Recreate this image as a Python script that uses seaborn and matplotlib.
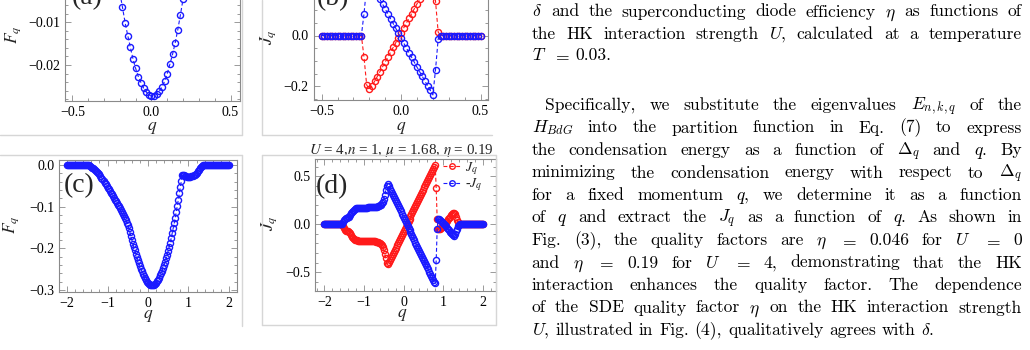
import numpy as np
import matplotlib
matplotlib.use("Agg")
import matplotlib.pyplot as plt
import seaborn as sns
from matplotlib.lines import Line2D
from matplotlib.ticker import FixedLocator, MultipleLocator, FuncFormatter
from matplotlib.transforms import IdentityTransform

# ---------------- data ----------------
q_ab = np.linspace(-0.5, 0.5, 61)          # q grid of panels (a),(b), step 1/60
F_a = [0.0] * 16 + [
    -0.0001, -0.0005, -0.0031, -0.0065, -0.0101, -0.0131, -0.0159, -0.0186, -0.0208, -0.0227,
    -0.0241, -0.0254, -0.0263, -0.0270, -0.0273, -0.0273, -0.0268, -0.0261, -0.0251, -0.0238,
    -0.0220, -0.0198, -0.0175, -0.0148, -0.0117, -0.0082, -0.0045, -0.0015, -0.0002] + [0.0] * 16
J_b = [0.0] * 16 + [
    -0.086, -0.194, -0.211, -0.197, -0.180, -0.161, -0.142, -0.123, -0.104, -0.085,
    -0.066, -0.047, -0.028, -0.008, 0.011, 0.030, 0.049, 0.068, 0.086, 0.105,
    0.124, 0.142, 0.160, 0.179, 0.197, 0.215, 0.233, 0.134, 0.013] + [0.0] * 16

q_cd = np.linspace(-2.0, 2.0, 161)         # q grid of panels (c),(d), step 0.025
F_c = [0.0] * 22 + [
    -0.001, -0.002, -0.004, -0.006, -0.008, -0.010, -0.012, -0.014, -0.017, -0.019,
    -0.022, -0.026, -0.030, -0.034, -0.038, -0.042, -0.046, -0.050, -0.054, -0.058,
    -0.062, -0.066, -0.070, -0.074, -0.078, -0.083, -0.087, -0.091, -0.095, -0.099,
    -0.104, -0.108, -0.113, -0.117, -0.122, -0.127, -0.132, -0.138, -0.144, -0.151,
    -0.160, -0.170, -0.180, -0.189, -0.197, -0.205, -0.213, -0.220, -0.228, -0.235,
    -0.242, -0.249, -0.255, -0.261, -0.266, -0.271, -0.276, -0.280, -0.283, -0.286,
    -0.288, -0.289, -0.289, -0.288, -0.287, -0.285, -0.282, -0.279, -0.275, -0.270,
    -0.265, -0.260, -0.254, -0.247, -0.240, -0.232, -0.224, -0.215, -0.206, -0.196,
    -0.186, -0.175, -0.163, -0.151, -0.139, -0.126, -0.112, -0.098, -0.083, -0.068,
    -0.053, -0.038, -0.025, -0.024, -0.025, -0.026, -0.027, -0.028, -0.028, -0.028,
    -0.028, -0.027, -0.026, -0.025, -0.023, -0.021, -0.018, -0.015, -0.012, -0.008,
    -0.005, -0.002, -0.001] + [0.0] * 26
J_d = [0.0] * 18 + [
    -0.005, -0.020, -0.040, -0.058, -0.066, -0.070, -0.073, -0.080, -0.095, -0.113,
    -0.130, -0.143, -0.153, -0.160, -0.165, -0.168, -0.170, -0.171, -0.172, -0.172,
    -0.173, -0.173, -0.173, -0.174, -0.174, -0.174, -0.175, -0.175, -0.175, -0.176,
    -0.176, -0.177, -0.178, -0.179, -0.181, -0.183, -0.186, -0.190, -0.196, -0.205,
    -0.218, -0.237, -0.265, -0.305, -0.355, -0.400, -0.418, -0.395, -0.371, -0.350,
    -0.328, -0.306, -0.285, -0.263, -0.242, -0.220, -0.198, -0.177, -0.155, -0.134,
    -0.112, -0.091, -0.069, -0.047, -0.026, -0.004, 0.017, 0.039, 0.060, 0.082,
    0.104, 0.125, 0.147, 0.168, 0.190, 0.211, 0.233, 0.255, 0.276, 0.298,
    0.319, 0.341, 0.362, 0.384, 0.406, 0.427, 0.449, 0.470, 0.492, 0.513,
    0.535, 0.557, 0.578, 0.600, 0.615, 0.375, 0.050, -0.050, -0.050, -0.045,
    -0.035, -0.025, -0.015, -0.005, 0.008, 0.022, 0.036, 0.050, 0.064, 0.078,
    0.092, 0.105, 0.116, 0.120, 0.105, 0.075, 0.045, 0.020, 0.006, 0.001] + [0.0] * 23

title_d = r"$U$ = 4,$n$ = 1, $\mu$ = 1.68, $\eta$ = 0.19"
legend_labels = [r"$J_q$", r"-$J_q$"]
panel_labels = ["(a)", "(b)", "(c)", "(d)"]

body_lines = [
    r"$\delta$ and the superconducting diode efficiency $\eta$ as functions of",
    r"the HK interaction strength $U$, calculated at a temperature",
    r"$T$ $=$ 0.03.",
    r"Specifically, we substitute the eigenvalues $E_{n,k,q}$ of the",
    r"$H_{BdG}$ into the partition function in Eq. (7) to express",
    r"the condensation energy as a function of $\Delta_q$ and $q$. By",
    r"minimizing the condensation energy with respect to $\Delta_q$",
    r"for a fixed momentum $q$, we determine it as a function",
    r"of $q$ and extract the $J_q$ as a function of $q$. As shown in",
    r"Fig.  (3), the quality factors are $\eta$ $=$ 0.046 for $U$ $=$ 0",
    r"and $\eta$ $=$ 0.19 for $U$ $=$ 4, demonstrating that the HK",
    r"interaction enhances the quality factor. The dependence",
    r"of the SDE quality factor $\eta$ on the HK interaction strength",
    r"$U$, illustrated in Fig. (4), qualitatively agrees with $\delta$.",
]
body_justify = [True, True, False, True, True, True, True, True, True, True, True, True, True, False]
body_indent = [False, False, False, True] + [False] * 10
body_base = [16.5, 39.0, 60.5, 110.0, 132.5, 155.0, 177.5, 200.0, 222.5, 245.0, 267.5, 290.0, 312.5, 335.0]

# ---------------- style ----------------
sns.set_theme(style="white")
plt.rcParams["font.family"] = ["Liberation Serif", "DejaVu Serif"]
plt.rcParams["mathtext.fontset"] = "stix"
plt.rcParams["axes.unicode_minus"] = True

W, H = 1030, 350
fig = plt.figure(figsize=(W / 100, H / 100), dpi=100)
fig.patch.set_facecolor("white")

BLUE = "#1a1aff"
RED = "#ff1a1a"
FRAME = "#8a8a8a"


def add_ax(x0, y0, x1, y1):
    return fig.add_axes([x0 / W, 1 - y1 / H, (x1 - x0) / W, (y1 - y0) / H])


def to_ax(box, px, py):
    x0, y0, x1, y1 = box
    return (px - x0) / (x1 - x0), (y1 - py) / (y1 - y0)


def fmt(dec):
    def f(v, pos):
        s = f"{v:.{dec}f}"
        if float(s) == 0:
            s = f"{0:.{dec}f}"
        return s.replace("-", "\u2212")
    return FuncFormatter(f)


def style_ax(ax, xmaj, xmin, ymaj, ymin, xdec, ydec):
    ax.set_facecolor("white")
    for sp in ax.spines.values():
        sp.set_color(FRAME)
        sp.set_linewidth(0.8)
        sp.set_visible(True)
    ax.xaxis.set_major_locator(FixedLocator(xmaj))
    ax.xaxis.set_minor_locator(MultipleLocator(xmin))
    ax.yaxis.set_major_locator(FixedLocator(ymaj))
    ax.yaxis.set_minor_locator(MultipleLocator(ymin))
    ax.xaxis.set_major_formatter(fmt(xdec))
    ax.yaxis.set_major_formatter(fmt(ydec))
    ax.tick_params(which="both", direction="in", top=True, right=True, bottom=True, left=True,
                   color=FRAME, width=0.6, labelsize=10, labelcolor="black")
    ax.tick_params(which="major", length=4, pad=3.5)
    ax.tick_params(which="minor", length=2)
    ax.grid(False)


def labels(ax, box, xl, yl, xpos, ypos):
    ax.set_xlabel(xl, fontsize=12.5)
    ax.set_ylabel(yl, fontsize=12.5)
    ax.xaxis.set_label_coords(*to_ax(box, *xpos))
    ax.yaxis.set_label_coords(*to_ax(box, *ypos))
    ax.xaxis.label.set_va("center")
    ax.yaxis.label.set_va("center")
    ax.yaxis.label.set_ha("center")


line_kw = dict(lw=0.8, marker="o", ms=4.4, mfc="none", mew=1.0,
               estimator=None, sort=False, legend=False)
DASH = (0, (3.5, 2.2))

# ---------------- panel (a) ----------------
box_a = (65, -25.4, 240, 101)
ax_a = add_ax(*box_a)
sns.lineplot(x=q_ab, y=F_a, ax=ax_a, color=BLUE, linestyle=DASH, mec=BLUE, **line_kw)
ax_a.set_xlim(-0.547, 0.560)
ax_a.set_ylim(-0.02843, 0.00117)
style_ax(ax_a, [-0.5, 0.0, 0.5], 0.1, [-0.02, -0.01], 0.002, 1, 2)
labels(ax_a, box_a, r"$q$", r"$F_q$", (152, 127.5), (13.5, 35))
ax_a.text(*to_ax(box_a, 72, 4.5), panel_labels[0], transform=ax_a.transAxes, fontsize=20, va="baseline", ha="left")

# ---------------- panel (b) ----------------
box_b = (313.7, -29, 487.7, 100)
ax_b = add_ax(*box_b)
lb_r = sns.lineplot(x=q_ab, y=J_b, ax=ax_b, color=RED, linestyle=DASH, mec=RED, **line_kw).lines[-1]
lb_b = sns.lineplot(x=q_ab, y=[-v for v in J_b], ax=ax_b, color=BLUE, linestyle=DASH, mec=BLUE, **line_kw).lines[-1]
ax_b.set_xlim(-0.55, 0.545)
ax_b.set_ylim(-0.253, 0.253)
style_ax(ax_b, [-0.5, 0.0, 0.5], 0.1, [-0.2, 0.0], 0.05, 1, 1)
labels(ax_b, box_b, r"$q$", r"$J_q$", (401, 127.5), (268.5, 37))
ax_b.text(*to_ax(box_b, 317, 5), panel_labels[1], transform=ax_b.transAxes, fontsize=20, va="baseline", ha="left")

# ---------------- panel (c) ----------------
box_c = (59, 160, 237, 291.7)
ax_c = add_ax(*box_c)
sns.lineplot(x=q_cd, y=F_c, ax=ax_c, color=BLUE, linestyle=DASH, mec=BLUE, **line_kw)
ax_c.set_xlim(-2.2, 2.2)
ax_c.set_ylim(-0.304, 0.012)
style_ax(ax_c, [-2, -1, 0, 1, 2], 0.2, [-0.3, -0.2, -0.1, 0.0], 0.02, 0, 1)
labels(ax_c, box_c, r"$q$", r"$F_q$", (148, 316), (11.5, 225))
ax_c.text(*to_ax(box_c, 64, 192), panel_labels[2], transform=ax_c.transAxes, fontsize=20, va="baseline", ha="left")

# ---------------- panel (d) ----------------
box_d = (315, 159, 495.7, 290.7)
ax_d = add_ax(*box_d)
ld_r = sns.lineplot(x=q_cd, y=J_d, ax=ax_d, color=RED, linestyle=DASH, mec=RED, **line_kw).lines[-1]
ld_b = sns.lineplot(x=q_cd, y=[-v for v in J_d], ax=ax_d, color=BLUE, linestyle=DASH, mec=BLUE, **line_kw).lines[-1]
ax_d.set_xlim(-2.24, 2.33)
ax_d.set_ylim(-0.692, 0.68)
style_ax(ax_d, [-2, -1, 0, 1, 2], 0.2, [-0.5, 0.0, 0.5], 0.1, 0, 1)
labels(ax_d, box_d, r"$q$", r"$J_q$", (402, 315), (269.5, 223))
ax_d.text(*to_ax(box_d, 316, 193), panel_labels[3], transform=ax_d.transAxes, fontsize=20, va="baseline", ha="left")
ax_d.set_title(title_d, fontsize=10.8, x=to_ax(box_d, 401, 151)[0], y=to_ax(box_d, 401, 151)[1],
               pad=0, va="center", ha="center")
for ax, box, (lr, lbl) in ((ax_d, box_d, (ld_r, ld_b)), (ax_b, box_b, (lb_r, lb_b))):
    ax.legend(handles=[lr, lbl], labels=legend_labels, loc="upper right",
              bbox_to_anchor=to_ax(box, 482, 160), borderaxespad=0, borderpad=0,
              frameon=False, fontsize=10, handlelength=1.3, handletextpad=0.25,
              labelspacing=0.0, markerscale=0.9)

# ---------------- panel frames (light grey borders of the figure images) ----------------
def hline(y, x0, x1):
    fig.add_artist(Line2D([x0 / W, x1 / W], [1 - y / H, 1 - y / H], color="#d6d6d6", lw=1.0))


def vline(x, y0, y1):
    fig.add_artist(Line2D([x / W, x / W], [1 - y0 / H, 1 - y1 / H], color="#d6d6d6", lw=1.0))


vline(242, 0, 135); hline(135, 0, 242)
vline(262, 0, 135); hline(135, 262, 492)
hline(155, 0, 242); vline(242, 155, 326)
hline(155, 262, 496); vline(262, 155, 325); vline(496, 155, 325); hline(325, 262, 496)

# ---------------- body text (justified) ----------------
FS = 12.6
renderer = fig.canvas.get_renderer()
XL, XR, IND = 531.7, 1021.7, 545.0
for line, just, ind, yb in zip(body_lines, body_justify, body_indent, body_base):
    words = line.split()
    texts = [fig.text(0, 0, w, fontsize=FS, family="cmr10", math_fontfamily="cm",
                      color="black", transform=IdentityTransform(), va="baseline", ha="left")
             for w in words]
    widths = [t.get_window_extent(renderer).width for t in texts]
    x0 = IND if ind else XL
    if just and len(words) > 1:
        gap = (XR - x0 - sum(widths)) / (len(words) - 1)
    else:
        gap = FS * 100 / 72 * 0.333
    x = x0
    for t, wdt in zip(texts, widths):
        t.set_position((x, H - yb))
        x += wdt + gap

fig.savefig("out.png", dpi=100, facecolor="white")
